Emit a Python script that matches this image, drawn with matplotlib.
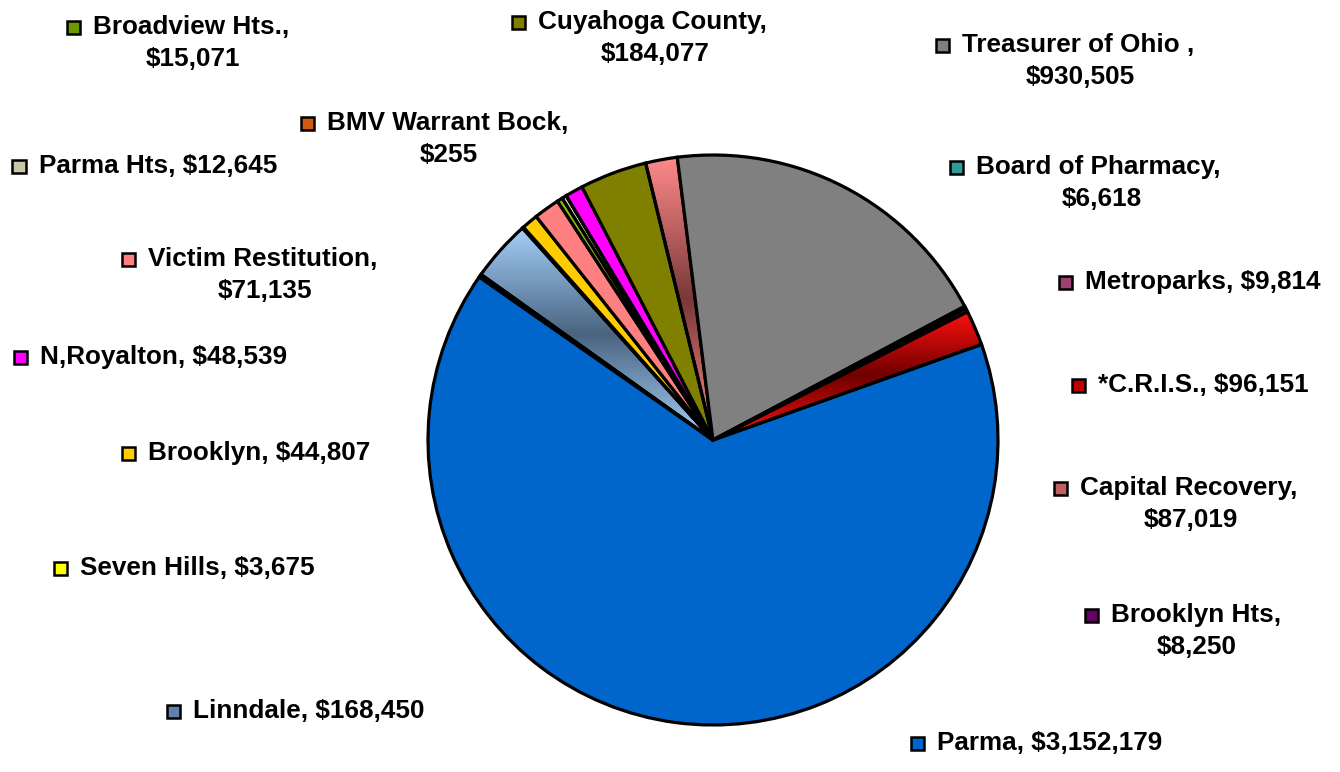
import matplotlib
matplotlib.use("Agg")
import matplotlib.pyplot as plt
from matplotlib.patches import Rectangle
from matplotlib.colors import to_rgb
import numpy as np

# Slices, clockwise from the Parma slice
names = ["Parma", "Brooklyn Hts", "Linndale", "Seven Hills", "Brooklyn",
         "Victim Restitution", "Broadview Hts.", "Parma Hts", "BMV Warrant Bock",
         "N,Royalton", "Cuyahoga County", "Capital Recovery", "Treasurer of Ohio ",
         "Board of Pharmacy", "Metroparks", "*C.R.I.S."]
values = [3152179, 8250, 168450, 3675, 44807,
          71135, 15071, 12645, 255,
          48539, 184077, 87019, 930505,
          6618, 9814, 96151]
colors = ["#0066CC", "#660066", "#99CCFF", "#FFFF00", "#FFCC00",
          "#FF8080", "#8DBB10", "#E4E4C4", "#D05A10",
          "#FF00FF", "#808000", "#FF8080", "#808080",
          "#339999", "#993366", "#FF0000"]
# slices drawn with a light-dark-light vertical shade (light, dark)
shaded = {"Linndale": ("#A4CFFA", "#4A6480"),
          "Capital Recovery": ("#FF8A8A", "#7A3838"),
          "*C.R.I.S.": ("#FF1010", "#700000")}
key_colors = {"Linndale": "#5E82B0", "Capital Recovery": "#C06060",
              "*C.R.I.S.": "#C00000", "Broadview Hts.": "#6A9A00",
              "Parma Hts": "#C8C8A8", "Board of Pharmacy": "#2E9A9A",
              "Metroparks": "#A04070"}

# Label layout in pixels: key square centre (x, y), centre x of the second line (None = one line)
label_pos = {
    "Broadview Hts.": (73, 27, 193),
    "Cuyahoga County": (518, 22, 655),
    "Treasurer of Ohio ": (942, 45, 1080),
    "BMV Warrant Bock": (307, 123, 449),
    "Parma Hts": (19, 166, None),
    "Board of Pharmacy": (956, 167, 1102),
    "Victim Restitution": (128, 259, 265),
    "Metroparks": (1065, 282, None),
    "N,Royalton": (20, 357, None),
    "*C.R.I.S.": (1078, 385, None),
    "Brooklyn": (128, 453, None),
    "Capital Recovery": (1060, 488, 1191),
    "Seven Hills": (60, 568, None),
    "Brooklyn Hts": (1091, 615, 1197),
    "Linndale": (173, 711, None),
    "Parma": (917, 743, None),
}

W, H = 1340, 772
cx, cy, r = 713, 440, 285

fig = plt.figure(figsize=(W / 100, H / 100), dpi=100)
ax = fig.add_axes([(cx - r) / W, (H - cy - r) / H, 2 * r / W, 2 * r / H])

startangle = 19.6
wedges, _ = ax.pie(values, colors=colors, startangle=startangle, counterclock=False,
                   radius=1, wedgeprops=dict(edgecolor="black", linewidth=2.3))

# gradient fills
t = np.linspace(0, 1, 256)
prof = 1 - np.abs(2 * t - 1)
for w, name in zip(wedges, names):
    if name in shaded:
        light = np.array(to_rgb(shaded[name][0]))
        dark = np.array(to_rgb(shaded[name][1]))
        cols = light[None, :] * (1 - prof[:, None]) + dark[None, :] * prof[:, None]
        ext = w.get_path().get_extents()
        im = ax.imshow(cols[:, None, :], extent=[ext.x0, ext.x1, ext.y0, ext.y1],
                       origin="lower", aspect="auto", interpolation="bilinear", zorder=0.5)
        im.set_clip_path(w)
        w.set_facecolor("none")

ax.set_xlim(-1, 1)
ax.set_ylim(-1, 1)
ax.set_aspect("equal")
ax.axis("off")

font = dict(family="Liberation Sans", fontweight="bold", fontsize=18.8, color="black")
sq = 13
for name, val, col in zip(names, values, colors):
    x, y, x2 = label_pos[name]
    kc = key_colors.get(name, col)
    fig.add_artist(Rectangle(((x - sq / 2) / W, (H - y - sq / 2) / H), sq / W, sq / H,
                             transform=fig.transFigure, facecolor=kc,
                             edgecolor="black", linewidth=1.8))
    if x2 is None:
        fig.text((x + 20) / W, (H - y) / H, f"{name}, ${val:,}", ha="left", va="center", **font)
    else:
        fig.text((x + 20) / W, (H - y) / H, f"{name},", ha="left", va="center", **font)
        fig.text(x2 / W, (H - y - 32) / H, f"${val:,}", ha="center", va="center", **font)

fig.savefig("out.png", dpi=100, facecolor="white")
